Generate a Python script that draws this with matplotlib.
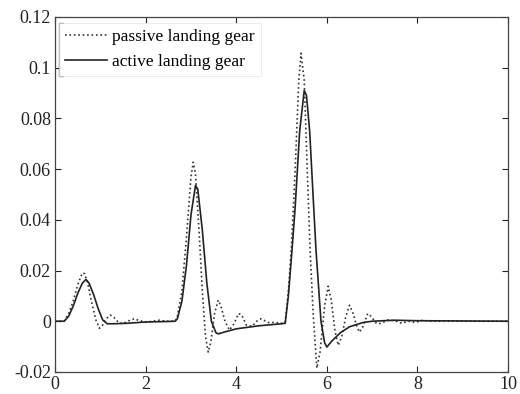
import numpy as np
import matplotlib.pyplot as plt

plt.rcParams['font.family'] = ['Liberation Serif', 'DejaVu Serif']

# passive landing gear response (time, value)
t_passive = [0, 0.2, 0.3, 0.4, 0.5, 0.6, 0.65, 0.72, 0.8, 0.9, 0.98, 1.05, 1.13, 1.22, 1.3, 1.4,
             1.5, 1.6, 1.75, 1.85, 2.0, 2.15, 2.3, 2.45, 2.65,
             2.7, 2.8, 2.9, 3.0, 3.05, 3.1, 3.18, 3.25, 3.32, 3.38, 3.44, 3.52, 3.6, 3.66, 3.75,
             3.85, 3.95, 4.05, 4.12, 4.22, 4.35, 4.45, 4.55, 4.7, 4.85, 5.0, 5.08,
             5.15, 5.22, 5.3, 5.38, 5.43, 5.5, 5.57, 5.63, 5.7, 5.78, 5.85, 5.95, 6.03, 6.1,
             6.18, 6.25, 6.33, 6.42, 6.5, 6.58, 6.66, 6.72, 6.8, 6.9, 6.97, 7.1, 7.2, 7.35,
             7.5, 7.65, 7.8, 7.95, 8.1, 8.3, 8.9, 10]
y_passive = [0, 0, 0.003, 0.008, 0.0145, 0.019, 0.0188, 0.015, 0.008, 0.0005, -0.0028, -0.0015, 0.001, 0.0024, 0.0015, -0.0005,
             -0.001, 0.0, 0.001, 0.0003, -0.0004, 0.0, 0.0004, 0.0, 0.0,
             0.002, 0.012, 0.033, 0.057, 0.0627, 0.058, 0.035, 0.012, -0.006, -0.0122, -0.008, 0.003, 0.0083, 0.006, 0.0,
             -0.0035, -0.001, 0.003, 0.0025, -0.0015, -0.002, 0.0, 0.001, -0.0005, -0.0005, -0.0008, -0.0005,
             0.012, 0.03, 0.06, 0.095, 0.1057, 0.095, 0.058, 0.028, 0.002, -0.0185, -0.012, 0.006, 0.0138, 0.008,
             -0.004, -0.0095, -0.006, 0.002, 0.0063, 0.003, -0.002, -0.0043, -0.002, 0.003, 0.002, -0.001, -0.0008, 0.0005,
             0.0002, -0.0008, 0.0, -0.0005, 0.0003, 0.0, 0.0, 0.0]

# active landing gear response (time, value)
t_active = [0, 0.2, 0.3, 0.4, 0.5, 0.6, 0.68, 0.75, 0.85, 0.95, 1.05, 1.15, 1.3, 1.6, 2.0, 2.5, 2.65,
            2.7, 2.8, 2.9, 3.0, 3.1, 3.15, 3.25, 3.35, 3.45, 3.55, 3.6, 3.75, 4.0, 4.5, 5.0, 5.08,
            5.15, 5.23, 5.3, 5.4, 5.5, 5.55, 5.62, 5.7, 5.76, 5.87, 5.95, 6.0, 6.1, 6.3, 6.5,
            6.8, 7.0, 7.5, 8.0, 10]
y_active = [0, 0, 0.002, 0.006, 0.011, 0.015, 0.0165, 0.015, 0.0105, 0.005, 0.0005, -0.001, -0.001, -0.0008, -0.0003, -0.0001, 0.0,
            0.001, 0.008, 0.022, 0.042, 0.0536, 0.052, 0.036, 0.015, 0.0, -0.0045, -0.005, -0.0042, -0.003, -0.0018, -0.001, -0.0008,
            0.01, 0.028, 0.045, 0.075, 0.091, 0.089, 0.075, 0.048, 0.028, 0.0, -0.0085, -0.0102, -0.008, -0.0045, -0.0022,
            -0.0005, 0.0, 0.0004, 0.0002, 0.0]

fig = plt.figure(figsize=(5.2, 3.94), dpi=100)
ax = fig.add_axes([0.106, 0.056, 0.871, 0.901])

ax.plot(t_passive, y_passive, linestyle=':', color='#333333', linewidth=1.2, label='passive landing gear')
ax.plot(t_active, y_active, linestyle='-', color='#222222', linewidth=1.2, label='active landing gear')

ax.set_xlim(0, 10)
ax.set_ylim(-0.02, 0.12)
ax.set_xticks([0, 2, 4, 6, 8, 10])
ax.set_yticks([-0.02, 0, 0.02, 0.04, 0.06, 0.08, 0.1, 0.12])
ax.set_yticklabels(['-0.02', '0', '0.02', '0.04', '0.06', '0.08', '0.1', '0.12'])
ax.tick_params(direction='in', top=True, right=True, length=4, labelsize=13, colors='#222222', pad=3)
for s in ax.spines.values():
    s.set_color('#444444')
    s.set_linewidth(0.9)

leg = ax.legend(loc='upper left', bbox_to_anchor=(0.009, 0.983), fontsize=12.5, frameon=True,
                fancybox=False, borderpad=0.35, handlelength=2.4, handletextpad=0.3,
                labelspacing=0.5, borderaxespad=0)
leg.get_frame().set_edgecolor('#e4e4e4')
leg.get_frame().set_linewidth(0.6)

# dark left edge of the legend box, drawn as a bracket
fig.canvas.draw()
bb = leg.get_window_extent().transformed(ax.transAxes.inverted())
ax.plot([bb.x0 + 0.008, bb.x0, bb.x0, bb.x0 + 0.008], [bb.y1, bb.y1, bb.y0, bb.y0],
        transform=ax.transAxes, color='#333333', linewidth=0.9, clip_on=False)

fig.savefig('out.png', dpi=100)
